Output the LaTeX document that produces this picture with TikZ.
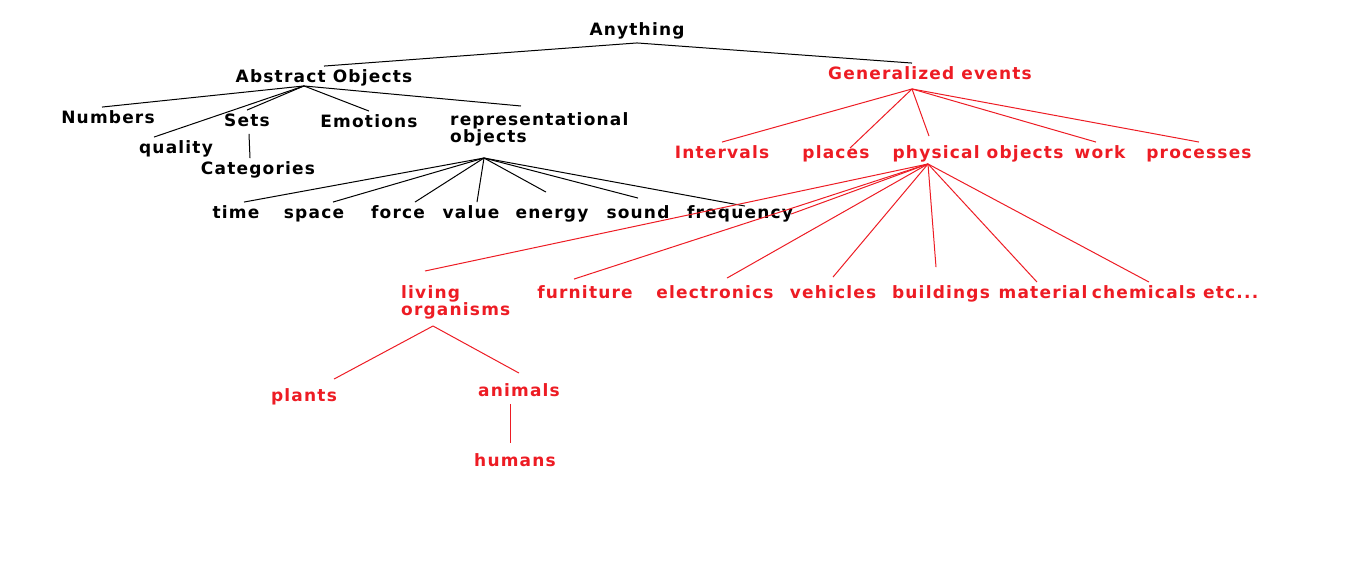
\documentclass[tikz,border=0pt]{standalone}
\usepackage{fontspec}
\setmainfont[LetterSpace=7]{DejaVu Sans}
\usepackage{xcolor}
\usepackage{tikz}
\usetikzlibrary{positioning}
\definecolor{evt}{HTML}{ED1C24}

\begin{document}
\begin{tikzpicture}[
  x=1pt, y=-1pt,
  font=\fontsize{17}{17}\selectfont\bfseries,
  lbl/.style={inner xsep=2pt, inner ysep=4pt, text height=12pt, text depth=3.5pt},
  lbltwo/.style={inner xsep=2pt, inner ysep=4pt, align=left, anchor=north west},
  red/.style={text=evt},
  ln/.style={line width=1pt},
  rln/.style={line width=1pt, draw=evt}]
\path[use as bounding box] (0,0) rectangle (1355,574);

% abstract side
\node[lbl] (any) at (637,31) {Anything};
\node[lbl] (absobj) at (324,78) {Abstract Objects};
\node[lbl] (numbers) at (108,119) {Numbers};
\node[lbl] (quality) at (176,149) {quality};
\node[lbl] (sets) at (247,122) {Sets};
\node[lbl] (emot) at (369,123) {Emotions};
\node[lbltwo] (repr) at (448,108) {representational\\objects};
\node[lbl] (categ) at (258,170) {Categories};
\node[lbl] (time) at (236,214) {time};
\node[lbl] (space) at (314,214) {space};
\node[lbl] (force) at (398,214) {force};
\node[lbl] (value) at (471,214) {value};
\node[lbl] (energy) at (552,214) {energy};
\node[lbl] (sound) at (638,214) {sound};
\node[lbl] (freq) at (740,214) {frequency};

% events side
\node[lbl, red] (genev) at (930,75) {Generalized events};
\node[lbl, red] (interv) at (722,154) {Intervals};
\node[lbl, red] (places) at (836,154) {places};
\node[lbl, red] (physobj) at (978,154) {physical objects};
\node[lbl, red] (work) at (1100,154) {work};
\node[lbl, red] (proc) at (1199,154) {processes};
\node[lbltwo, red] (living) at (399,281) {living\\organisms};
\node[lbl, red] (furn) at (585,294) {furniture};
\node[lbl, red] (electr) at (715,294) {electronics};
\node[lbl, red] (vehic) at (833,294) {vehicles};
\node[lbl, red] (build) at (941,294) {buildings};
\node[lbl, red] (mater) at (1043,294) {material};
\node[lbl, red] (chem) at (1175,294) {chemicals etc...};
\node[lbl, red] (plants) at (304,397) {plants};
\node[lbl, red] (animals) at (519,392) {animals};
\node[lbl, red] (humans) at (515,462) {humans};

\coordinate (abshub) at ([xshift=-20pt,yshift=4pt]absobj.south);
\coordinate (rephub) at ([xshift=36pt,yshift=-50pt]repr.north west);
\coordinate (genhub) at ([xshift=-18pt,yshift=-2pt]genev.south);
\coordinate (phyhub) at ([xshift=-50pt,yshift=2pt]physobj.south);
\coordinate (livhub) at ([xshift=34pt,yshift=-45pt]living.north west);

\draw[ln] (any.south) -- (absobj.north);
\draw[ln] (any.south) -- ([xshift=-18pt]genev.north);

\draw[ln] (abshub) -- ([xshift=-6pt]numbers.north);
\draw[ln] (abshub) -- ([xshift=-22pt]quality.north);
\draw[ln] (abshub) -- (sets.north);
\draw[ln] (abshub) -- (emot.north);
\draw[ln] (abshub) -- ([xshift=73pt,yshift=2pt]repr.north west);
\draw[ln] ([xshift=2pt]sets.south) -- ([xshift=-8pt]categ.north);

\draw[ln] (rephub) -- ([xshift=8pt]time.north);
\draw[ln] (rephub) -- ([xshift=19pt]space.north);
\draw[ln] (rephub) -- ([xshift=17pt]force.north);
\draw[ln] (rephub) -- ([xshift=6pt]value.north);
\draw[ln] (rephub) -- ([xshift=-6pt,yshift=10pt]energy.north);
\draw[ln] (rephub) -- ([yshift=4pt]sound.north);
\draw[ln] (rephub) -- ([xshift=5pt,yshift=-4pt]freq.north);

\draw[rln] (genhub) -- (interv.north);
\draw[rln] (genhub) -- ([xshift=14pt,yshift=-6pt]places.north);
\draw[rln] (genhub) -- ([xshift=-49pt,yshift=6pt]physobj.north);
\draw[rln] (genhub) -- ([xshift=-4pt]work.north);
\draw[rln] (genhub) -- (proc.north);

\draw[rln] (phyhub) -- ([xshift=26pt,yshift=10pt]living.north west);
\draw[rln] (phyhub) -- ([xshift=-4pt]freq.east);
\draw[rln] (phyhub) -- ([xshift=-11pt,yshift=3pt]furn.north);
\draw[rln] (phyhub) -- ([xshift=12pt,yshift=4pt]electr.north);
\draw[rln] (phyhub) -- ([yshift=5pt]vehic.north);
\draw[rln] (phyhub) -- ([xshift=-5pt,yshift=15pt]build.north);
\draw[rln] (phyhub) -- ([xshift=-6pt]mater.north);
\draw[rln] (phyhub) -- ([xshift=-26pt]chem.north);

\draw[rln] (livhub) -- ([xshift=30pt,yshift=6pt]plants.north);
\draw[rln] (livhub) -- ([yshift=7pt]animals.north);
\draw[rln] ([xshift=-9pt]animals.south) -- ([xshift=-5pt,yshift=7pt]humans.north);
\end{tikzpicture}
\end{document}
